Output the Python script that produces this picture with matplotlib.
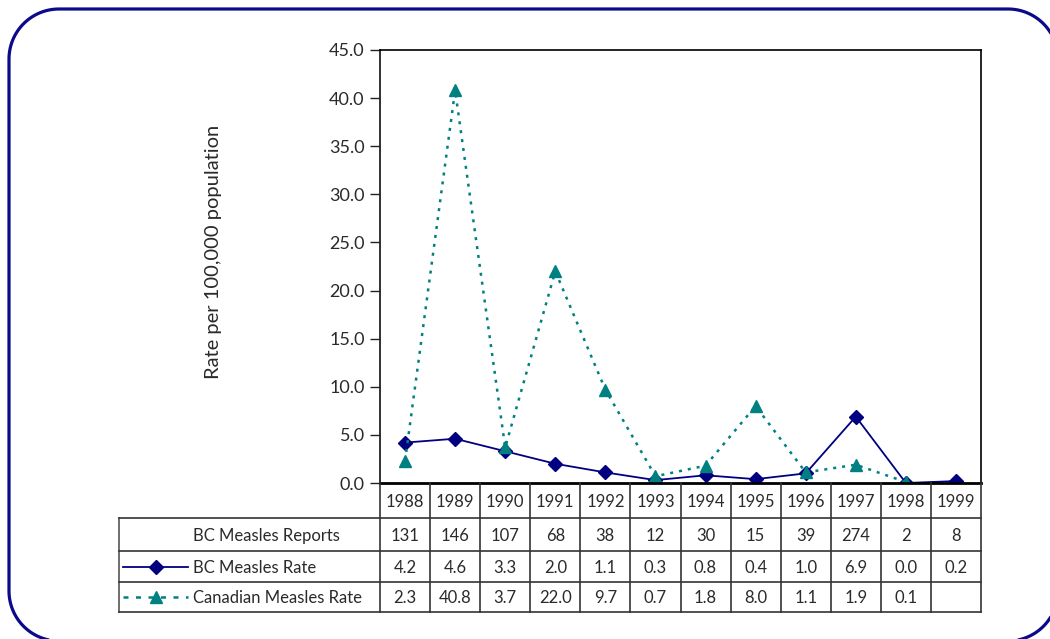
import matplotlib
matplotlib.use('Agg')
import numpy as np
import matplotlib.pyplot as plt
from matplotlib.patches import Polygon

plt.rcParams['font.family'] = ['Lato', 'DejaVu Sans']

#---------------------------------------------------------------
# measles data
years = [1988, 1989, 1990, 1991, 1992, 1993, 1994, 1995, 1996, 1997, 1998, 1999]
bc_reports = [131, 146, 107, 68, 38, 12, 30, 15, 39, 274, 2, 8]
bc_rate = [4.2, 4.6, 3.3, 2.0, 1.1, 0.3, 0.8, 0.4, 1.0, 6.9, 0.0, 0.2]
can_rate = [2.3, 40.8, 3.7, 22.0, 9.7, 0.7, 1.8, 8.0, 1.1, 1.9, 0.1, None]

row_names = ['BC Measles Reports', 'BC Measles Rate', 'Canadian Measles Rate']
ylabel = 'Rate per 100,000 population'
yticks = np.arange(0, 45.1, 5.0)

navy = '#000080'
teal = '#008080'
gridc = '#333333'
txtc = '#2a2a2a'

#---------------------------------------------------------------
W, H = 1050, 639
fig = plt.figure(figsize=(W/100., H/100.), dpi=100)

# pixel layout
x0, x1 = 380., 981.      # plot left/right
y_top, y_bot = 50., 483. # plot top/bottom
tab_left = 119.
row_edges = [483., 518., 551., 582., 612.]

def fx(p): return p / W
def fy(p): return 1. - p / H

ax = fig.add_axes([fx(x0), fy(y_bot), fx(x1) - fx(x0), fy(y_top) - fy(y_bot)])
n = len(years)
xi = np.arange(n)

can_x = [i for i in xi if can_rate[i] is not None]
can_y = [can_rate[i] for i in can_x]

ax.plot(xi, bc_rate, color=navy, lw=1.3, marker='D', ms=7, mfc=navy, mec=navy, zorder=3)
ax.plot(can_x, can_y, color=teal, lw=1.8, ls=(0, (1.2, 2.4)), marker='^', ms=9,
        mfc=teal, mec=teal, zorder=4)

ax.set_xlim(-0.5, n - 0.5)
ax.set_ylim(0, 45)
ax.set_yticks(yticks)
ax.set_yticklabels(['%.1f' % v for v in yticks], fontsize=13, color=txtc)
ax.set_xticks([])
ax.tick_params(axis='y', direction='out', length=7, width=1, color='#222222', pad=4)
for s in ['top', 'right']:
  ax.spines[s].set_linewidth(1.2)
  ax.spines[s].set_color('black')
ax.spines['left'].set_linewidth(1.3)
ax.spines['left'].set_color('#222222')
ax.spines['bottom'].set_linewidth(2.0)
ax.spines['bottom'].set_color('black')
ax.spines['bottom'].set_zorder(5)

fig.text(fx(213), fy(252), ylabel, rotation=90, ha='center', va='center', fontsize=14.5, color=txtc)

#---------------------------------------------------------------
# data table below the chart
upx = (x1 - x0) / n
tx = fig.add_axes([fx(tab_left), fy(row_edges[-1]), fx(x1) - fx(tab_left),
                   fy(row_edges[0]) - fy(row_edges[-1])])
tx.set_xlim(-0.5 - (x0 - tab_left) / upx, n - 0.5)
tx.set_ylim(row_edges[-1], row_edges[0])
tx.axis('off')
xl = -0.5 - (x0 - tab_left) / upx

# vertical rules
for k in range(n + 1):
  tx.plot([k - 0.5, k - 0.5], [row_edges[0], row_edges[-1]], color=gridc, lw=1.2, clip_on=False)
tx.plot([xl, xl], [row_edges[1], row_edges[-1]], color='#555555', lw=1.2, clip_on=False)
# horizontal rules
for e in row_edges[1:]:
  tx.plot([xl, n - 0.5], [e, e], color=gridc, lw=1.2, clip_on=False)

mids = [(row_edges[r] + row_edges[r + 1]) / 2. for r in range(4)]
for i in range(n):
  tx.text(i, mids[0] + 1, str(years[i]), ha='center', va='center', fontsize=12, color=txtc)
  tx.text(i, mids[1] + 1, str(bc_reports[i]), ha='center', va='center', fontsize=12, color=txtc)
  tx.text(i, mids[2] + 1, '%.1f' % bc_rate[i], ha='center', va='center', fontsize=12, color=txtc)
  if can_rate[i] is not None:
    tx.text(i, mids[3] + 1, '%.1f' % can_rate[i], ha='center', va='center', fontsize=12, color=txtc)

lab_x = xl + (193 - tab_left) / upx
for r, name in enumerate(row_names):
  tx.text(lab_x, mids[r + 1] + 1, name, ha='left', va='center', fontsize=12, color=txtc)

# legend keys inside the row label cells
kx0 = xl + 4 / upx
kx1 = xl + 69 / upx
kxm = xl + 37 / upx
tx.plot([kx0, kx1], [mids[2], mids[2]], color=navy, lw=1.3, clip_on=False)
tx.plot([kxm], [mids[2]], color=navy, marker='D', ms=7, clip_on=False)
tx.plot([kx0, kx1], [mids[3], mids[3]], color=teal, lw=1.8, ls=(0, (2, 3)), clip_on=False)
tx.plot([kxm], [mids[3]], color=teal, marker='^', ms=9, clip_on=False)

#---------------------------------------------------------------
# rounded frame round the whole figure, built in pixels (y down)
def rounded_frame(l, t, r, b, rad, npt=30):
  pts = []
  corners = [(r - rad, t + rad, 270, 360), (r - rad, b - rad, 0, 90),
             (l + rad, b - rad, 90, 180), (l + rad, t + rad, 180, 270)]
  for cx, cy, a0, a1 in corners:
    a = np.radians(np.linspace(a0, a1, npt))
    for c, s in zip(np.cos(a), np.sin(a)):
      pts.append(((cx + rad * c) / W, 1. - (cy + rad * s) / H))
  return np.array(pts)

frame = Polygon(rounded_frame(9, 9, 1058, 641, 50), closed=True, fill=False,
                transform=fig.transFigure, edgecolor='#0a0a8a', linewidth=2.3,
                joinstyle='round')
fig.patches.append(frame)

fig.savefig('out.png', dpi=100)
